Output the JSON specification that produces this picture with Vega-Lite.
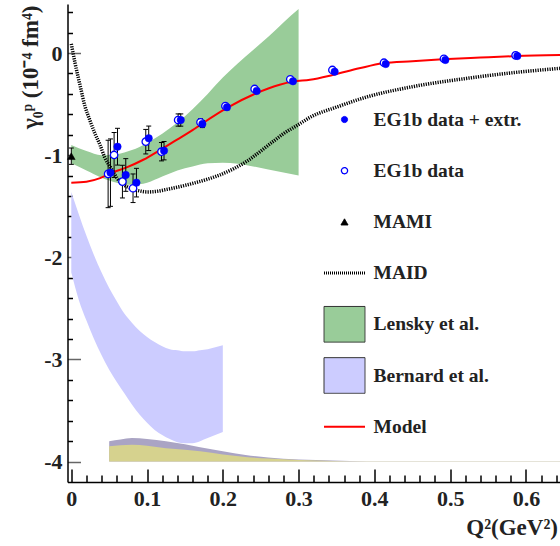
{
  "$schema": "https://vega.github.io/schema/vega-lite/v6.json",
  "width": 492.5,
  "height": 478,
  "autosize": {"type": "none"},
  "padding": {"left": 67.5, "top": 4, "right": 0, "bottom": 64},
  "config": {
    "view": {"stroke": null},
    "font": "Liberation Serif",
    "legend": {
      "orient": "none",
      "legendX": 255,
      "legendY": 95,
      "labelFont": "Liberation Serif",
      "labelFontWeight": "bold",
      "labelFontSize": 19.5,
      "labelColor": "#222222",
      "labelOffset": 7,
      "labelLimit": 0,
      "rowPadding": 10.2,
      "clipHeight": 41,
      "symbolLimit": 0,
      "padding": 0
    }
  },
  "datasets": {
    "bernard": [
      {"x": 0, "y": -1.36, "y2": -2.15}, {"x": 0.01, "y": -1.58, "y2": -2.42}, {"x": 0.02, "y": -1.79, "y2": -2.62},
      {"x": 0.03, "y": -1.98, "y2": -2.8}, {"x": 0.04, "y": -2.15, "y2": -2.96}, {"x": 0.05, "y": -2.3, "y2": -3.1},
      {"x": 0.06, "y": -2.43, "y2": -3.22}, {"x": 0.07, "y": -2.55, "y2": -3.33}, {"x": 0.08, "y": -2.64, "y2": -3.44},
      {"x": 0.09, "y": -2.72, "y2": -3.54}, {"x": 0.1, "y": -2.78, "y2": -3.62}, {"x": 0.11, "y": -2.83, "y2": -3.69},
      {"x": 0.12, "y": -2.87, "y2": -3.74}, {"x": 0.13, "y": -2.9, "y2": -3.78}, {"x": 0.14, "y": -2.91, "y2": -3.81},
      {"x": 0.15, "y": -2.92, "y2": -3.82}, {"x": 0.16, "y": -2.92, "y2": -3.82}, {"x": 0.17, "y": -2.91, "y2": -3.8},
      {"x": 0.18, "y": -2.9, "y2": -3.77}, {"x": 0.19, "y": -2.88, "y2": -3.74}, {"x": 0.2, "y": -2.86, "y2": -3.71}
    ],
    "lensky": [
      {"x": 0, "y": -0.9, "y2": -1.08}, {"x": 0.02, "y": -0.96, "y2": -1.15}, {"x": 0.04, "y": -1.0, "y2": -1.22},
      {"x": 0.06, "y": -0.99, "y2": -1.27}, {"x": 0.08, "y": -0.95, "y2": -1.29}, {"x": 0.1, "y": -0.88, "y2": -1.27},
      {"x": 0.12, "y": -0.79, "y2": -1.21}, {"x": 0.14, "y": -0.68, "y2": -1.15}, {"x": 0.16, "y": -0.55, "y2": -1.11},
      {"x": 0.18, "y": -0.4, "y2": -1.08}, {"x": 0.2, "y": -0.24, "y2": -1.075}, {"x": 0.22, "y": -0.1, "y2": -1.085},
      {"x": 0.24, "y": 0.03, "y2": -1.11}, {"x": 0.26, "y": 0.16, "y2": -1.14}, {"x": 0.28, "y": 0.3, "y2": -1.17},
      {"x": 0.3, "y": 0.43, "y2": -1.2}
    ],
    "sys": [
      {"x": 0.05, "p": -3.8, "o": -3.85}, {"x": 0.065, "p": -3.785, "o": -3.84}, {"x": 0.08, "p": -3.77, "o": -3.835},
      {"x": 0.1, "p": -3.78, "o": -3.845}, {"x": 0.125, "p": -3.8, "o": -3.87}, {"x": 0.15, "p": -3.83, "o": -3.885},
      {"x": 0.17, "p": -3.86, "o": -3.9}, {"x": 0.2, "p": -3.9, "o": -3.93}, {"x": 0.23, "p": -3.935, "o": -3.955},
      {"x": 0.26, "p": -3.96, "o": -3.97}, {"x": 0.3, "p": -3.98, "o": -3.985}, {"x": 0.345, "p": -3.99, "o": -3.995},
      {"x": 0.39, "p": -3.998, "o": -3.998}, {"x": 0.645, "p": -3.997, "o": -3.996}
    ],
    "maid": [
      {"x": 0, "y": 0.09}, {"x": 0.005, "y": -0.1}, {"x": 0.012, "y": -0.33}, {"x": 0.018, "y": -0.52},
      {"x": 0.0244, "y": -0.655}, {"x": 0.031, "y": -0.785}, {"x": 0.038, "y": -0.9}, {"x": 0.044, "y": -1.02},
      {"x": 0.051, "y": -1.11}, {"x": 0.064, "y": -1.26}, {"x": 0.077, "y": -1.32}, {"x": 0.09, "y": -1.35},
      {"x": 0.1, "y": -1.36}, {"x": 0.112, "y": -1.355}, {"x": 0.126, "y": -1.335}, {"x": 0.145, "y": -1.305},
      {"x": 0.161, "y": -1.275}, {"x": 0.18, "y": -1.235}, {"x": 0.196, "y": -1.194}, {"x": 0.215, "y": -1.13},
      {"x": 0.231, "y": -1.063}, {"x": 0.25, "y": -0.96}, {"x": 0.266, "y": -0.868}, {"x": 0.28, "y": -0.79},
      {"x": 0.3, "y": -0.7}, {"x": 0.315, "y": -0.63}, {"x": 0.35, "y": -0.53}, {"x": 0.39, "y": -0.43},
      {"x": 0.45, "y": -0.33}, {"x": 0.52, "y": -0.25}, {"x": 0.58, "y": -0.195}, {"x": 0.645, "y": -0.15}
    ],
    "model": [
      {"x": 0, "y": -1.27}, {"x": 0.02, "y": -1.26}, {"x": 0.038, "y": -1.225}, {"x": 0.051, "y": -1.18},
      {"x": 0.073, "y": -1.12}, {"x": 0.095, "y": -1.045}, {"x": 0.117, "y": -0.95}, {"x": 0.139, "y": -0.85},
      {"x": 0.16, "y": -0.755}, {"x": 0.175, "y": -0.68}, {"x": 0.205, "y": -0.54}, {"x": 0.244, "y": -0.394},
      {"x": 0.275, "y": -0.31}, {"x": 0.293, "y": -0.28}, {"x": 0.315, "y": -0.262}, {"x": 0.345, "y": -0.215},
      {"x": 0.38, "y": -0.15}, {"x": 0.411, "y": -0.1}, {"x": 0.45, "y": -0.08}, {"x": 0.49, "y": -0.062},
      {"x": 0.54, "y": -0.045}, {"x": 0.587, "y": -0.03}, {"x": 0.645, "y": -0.02}
    ],
    "pts": [
      {"t": "o", "x": 0.0486, "y": -1.184, "lo": -1.514, "hi": -0.854},
      {"t": "o", "x": 0.0565, "y": -0.998, "lo": -1.218, "hi": -0.778},
      {"t": "o", "x": 0.0675, "y": -1.259, "lo": -1.419, "hi": -1.099},
      {"t": "o", "x": 0.0815, "y": -1.324, "lo": -1.464, "hi": -1.184},
      {"t": "o", "x": 0.0983, "y": -0.868, "lo": -0.988, "hi": -0.748},
      {"t": "o", "x": 0.119, "y": -0.966, "lo": -1.056, "hi": -0.876},
      {"t": "o", "x": 0.141, "y": -0.656, "lo": -0.716, "hi": -0.596},
      {"t": "o", "x": 0.1705, "y": -0.678, "lo": -0.713, "hi": -0.643},
      {"t": "o", "x": 0.2034, "y": -0.519, "lo": -0.544, "hi": -0.494},
      {"t": "o", "x": 0.242, "y": -0.352, "lo": -0.372, "hi": -0.332},
      {"t": "o", "x": 0.289, "y": -0.257, "lo": -0.272, "hi": -0.242},
      {"t": "o", "x": 0.3446, "y": -0.166, "lo": -0.176, "hi": -0.156},
      {"t": "o", "x": 0.4127, "y": -0.095, "lo": -0.105, "hi": -0.085},
      {"t": "o", "x": 0.4918, "y": -0.056, "lo": -0.061, "hi": -0.051},
      {"t": "o", "x": 0.5864, "y": -0.023, "lo": -0.028, "hi": -0.018},
      {"t": "f", "x": 0.0517, "y": -1.171, "lo": -1.501, "hi": -0.841},
      {"t": "f", "x": 0.061, "y": -0.917, "lo": -1.097, "hi": -0.737},
      {"t": "f", "x": 0.0719, "y": -1.194, "lo": -1.354, "hi": -1.034},
      {"t": "f", "x": 0.086, "y": -1.269, "lo": -1.409, "hi": -1.129},
      {"t": "f", "x": 0.1022, "y": -0.835, "lo": -0.955, "hi": -0.715},
      {"t": "f", "x": 0.1224, "y": -0.956, "lo": -1.046, "hi": -0.866},
      {"t": "f", "x": 0.1445, "y": -0.656, "lo": -0.716, "hi": -0.596},
      {"t": "f", "x": 0.173, "y": -0.695, "lo": -0.73, "hi": -0.66},
      {"t": "f", "x": 0.2055, "y": -0.531, "lo": -0.556, "hi": -0.506},
      {"t": "f", "x": 0.2447, "y": -0.372, "lo": -0.392, "hi": -0.352},
      {"t": "f", "x": 0.2926, "y": -0.277, "lo": -0.292, "hi": -0.262},
      {"t": "f", "x": 0.3476, "y": -0.183, "lo": -0.193, "hi": -0.173},
      {"t": "f", "x": 0.415, "y": -0.108, "lo": -0.118, "hi": -0.098},
      {"t": "f", "x": 0.4937, "y": -0.068, "lo": -0.073, "hi": -0.063},
      {"t": "f", "x": 0.5887, "y": -0.029, "lo": -0.034, "hi": -0.024},
      {"t": "m", "x": 0, "y": -1.01, "lo": -1.09, "hi": -0.93}
    ]
  },
  "encoding": {
    "x": {
      "field": "x", "type": "quantitative",
      "scale": {"domain": [-0.005, 0.645], "nice": false, "zero": false},
      "axis": {
        "values": [0, 0.02, 0.04, 0.06, 0.08, 0.1, 0.12, 0.14, 0.16, 0.18, 0.2, 0.22, 0.24, 0.26, 0.28, 0.3, 0.32, 0.34, 0.36, 0.38, 0.4, 0.42, 0.44, 0.46, 0.48, 0.5, 0.52, 0.54, 0.56, 0.58, 0.6, 0.62, 0.64],
        "tickSize": {"condition": {"test": "abs(datum.value*10 - round(datum.value*10)) < 0.001", "value": -13}, "value": -7},
        "tickColor": "#000000",
        "tickWidth": 1.5,
        "domainColor": "#000000",
        "domainWidth": 1.5,
        "grid": false,
        "labelExpr": "abs(datum.value*10 - round(datum.value*10)) < 0.001 ? (datum.value == 0 ? '0' : format(datum.value, '.1f')) : ''",
        "labelFont": "Liberation Serif",
        "labelFontSize": 22,
        "labelFontWeight": "bold",
        "labelColor": "#222222",
        "labelPadding": 19,
        "labelOverlap": false,
        "labelFlush": false,
        "labelBound": false,
        "title": "Q²(GeV²)",
        "titleFont": "Liberation Serif",
        "titleFontSize": 23,
        "titleFontWeight": "bold",
        "titleColor": "#222222",
        "titleAnchor": "end",
        "titleAlign": "right",
        "titleBaseline": "alphabetic",
        "titleX": 490,
        "titleY": 52
      }
    },
    "y": {
      "field": "y", "type": "quantitative",
      "scale": {"domain": [-4.2, 0.48], "nice": false, "zero": false},
      "axis": {
        "values": [-4, -3.8, -3.6, -3.4, -3.2, -3, -2.8, -2.6, -2.4, -2.2, -2, -1.8, -1.6, -1.4, -1.2, -1, -0.8, -0.6, -0.4, -0.2, 0, 0.2, 0.4],
        "tickSize": {"condition": {"test": "abs(datum.value - round(datum.value)) < 0.001", "value": -13}, "value": -5},
        "tickColor": {"condition": {"test": "abs(datum.value - round(datum.value)) < 0.001", "value": "#666666"}, "value": "#000000"},
        "tickWidth": 1.5,
        "domainColor": "#000000",
        "domainWidth": 1.5,
        "grid": false,
        "labelExpr": "abs(datum.value - round(datum.value)) < 0.001 ? (datum.value == 0 ? '0' : '-' + abs(round(datum.value))) : ''",
        "labelFont": "Liberation Serif",
        "labelFontSize": 22,
        "labelFontWeight": "bold",
        "labelColor": "#222222",
        "labelPadding": 18.5,
        "labelOverlap": false,
        "labelFlush": false,
        "labelBound": false,
        "title": "γ₀ᵖ (10⁻⁴ fm⁴)",
        "titleFont": "Liberation Serif",
        "titleFontSize": 23,
        "titleFontWeight": "bold",
        "titleColor": "#222222",
        "titleAngle": -90,
        "titleAlign": "right",
        "titleBaseline": "middle",
        "titleX": -37,
        "titleY": 1
      }
    }
  },
  "layer": [
    {
      "data": {"name": "bernard"},
      "mark": {"type": "area", "color": "#ccccff", "opacity": 1, "interpolate": "monotone", "clip": true},
      "encoding": {"y2": {"field": "y2"}}
    },
    {
      "data": {"name": "lensky"},
      "mark": {"type": "area", "color": "#99cc99", "opacity": 1, "interpolate": "monotone", "clip": true},
      "encoding": {"y2": {"field": "y2"}}
    },
    {
      "data": {"name": "sys"},
      "mark": {"type": "area", "color": "#aaa4c4", "opacity": 1, "interpolate": "monotone", "clip": true},
      "encoding": {"y": {"field": "p", "type": "quantitative"}, "y2": {"datum": -4}}
    },
    {
      "data": {"name": "sys"},
      "mark": {"type": "area", "color": "#d6d28e", "opacity": 1, "interpolate": "monotone", "clip": true},
      "encoding": {"y": {"field": "o", "type": "quantitative"}, "y2": {"datum": -4}}
    },
    {
      "data": {"name": "maid"},
      "mark": {"type": "line", "color": "#000000", "strokeWidth": 3.5, "strokeDash": [1.2, 1.2], "interpolate": "monotone", "clip": true}
    },
    {
      "data": {"values": [{}]},
      "mark": {"type": "rule", "color": "#000000", "strokeWidth": 1.5, "strokeDash": [4, 3]},
      "encoding": {"x": {"datum": 0}, "x2": {"datum": 0.645}, "y": {"datum": 0}}
    },
    {
      "data": {"values": [{}]},
      "mark": {"type": "rule", "color": "#555555", "strokeWidth": 2.5},
      "encoding": {"x": {"datum": -0.005}, "x2": {"datum": 0.645}, "y": {"datum": 0.48}}
    },
    {
      "data": {"name": "model"},
      "mark": {"type": "line", "color": "#ff0000", "strokeWidth": 2, "interpolate": "monotone", "clip": true}
    },
    {
      "data": {"name": "pts"},
      "mark": {"type": "rule", "color": "#000000", "strokeWidth": 1},
      "encoding": {"y": {"field": "lo", "type": "quantitative"}, "y2": {"field": "hi"}}
    },
    {
      "data": {"name": "pts"},
      "mark": {"type": "tick", "color": "#000000", "orient": "horizontal", "size": 5, "thickness": 1, "opacity": 1},
      "encoding": {"y": {"field": "lo", "type": "quantitative"}}
    },
    {
      "data": {"name": "pts"},
      "mark": {"type": "tick", "color": "#000000", "orient": "horizontal", "size": 5, "thickness": 1, "opacity": 1},
      "encoding": {"y": {"field": "hi", "type": "quantitative"}}
    },
    {
      "data": {"name": "pts"},
      "transform": [{"filter": "datum.t == 'o'"}],
      "mark": {"type": "point", "shape": "circle", "size": 55, "fill": "#ffffff", "stroke": "#0000ff", "strokeWidth": 1.3, "opacity": 1, "filled": false}
    },
    {
      "data": {"name": "pts"},
      "transform": [{"filter": "datum.t == 'f'"}],
      "mark": {"type": "point", "shape": "circle", "size": 55, "fill": "#0000ff", "stroke": "#0000ff", "strokeWidth": 0.5, "opacity": 1, "filled": true}
    },
    {
      "data": {"name": "pts"},
      "transform": [{"filter": "datum.t == 'm'"}],
      "mark": {"type": "point", "shape": "triangle-up", "size": 60, "fill": "#000000", "stroke": "#000000", "strokeWidth": 0.5, "opacity": 1, "filled": true}
    },
    {
      "data": {"values": []},
      "mark": {"type": "point", "opacity": 1, "filled": true},
      "encoding": {
        "fill": {"field": "s", "type": "nominal", "legend": {"title": null},
          "scale": {"domain": ["EG1b data + extr.", "EG1b data", "MAMI", "MAID", "Lensky et al.", "Bernard et al.", "Model"],
                    "range": ["#0000ff", "#ffffff", "#000000", "transparent", "#99cc99", "#ccccff", "transparent"]}},
        "stroke": {"field": "s", "type": "nominal", "legend": {"title": null},
          "scale": {"domain": ["EG1b data + extr.", "EG1b data", "MAMI", "MAID", "Lensky et al.", "Bernard et al.", "Model"],
                    "range": ["#0000ff", "#0000ff", "#000000", "#000000", "#333333", "#333333", "#ff0000"]}},
        "shape": {"field": "s", "type": "nominal", "legend": {"title": null},
          "scale": {"domain": ["EG1b data + extr.", "EG1b data", "MAMI", "MAID", "Lensky et al.", "Bernard et al.", "Model"],
                    "range": ["circle", "circle", "triangle-up", "M-1,0H1", "M-1,-0.87H1V0.87H-1Z", "M-1,-0.87H1V0.87H-1Z", "M-1,0H1"]}},
        "size": {"field": "s", "type": "nominal", "legend": {"title": null},
          "scale": {"type": "ordinal", "domain": ["EG1b data + extr.", "EG1b data", "MAMI", "MAID", "Lensky et al.", "Bernard et al.", "Model"],
                    "range": [38, 38, 50, 1681, 1681, 1681, 1681]}},
        "strokeWidth": {"field": "s", "type": "nominal", "legend": {"title": null},
          "scale": {"type": "ordinal", "domain": ["EG1b data + extr.", "EG1b data", "MAMI", "MAID", "Lensky et al.", "Bernard et al.", "Model"],
                    "range": [1, 1.3, 1, 3, 1, 1, 2]}},
        "strokeDash": {"field": "s", "type": "nominal", "legend": {"title": null},
          "scale": {"domain": ["EG1b data + extr.", "EG1b data", "MAMI", "MAID", "Lensky et al.", "Bernard et al.", "Model"],
                    "range": [[1, 0], [1, 0], [1, 0], [1, 1], [1, 0], [1, 0], [1, 0]]}}
      }
    }
  ]
}
